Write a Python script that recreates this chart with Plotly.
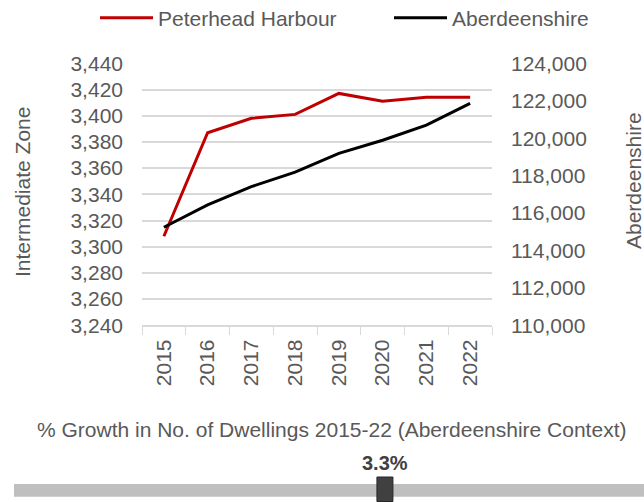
import plotly.graph_objects as go

years = ["2015", "2016", "2017", "2018", "2019", "2020", "2021", "2022"]
peterhead = [3308, 3387, 3398, 3401, 3417, 3411, 3414, 3414]
aberdeenshire = [115240, 116430, 117410, 118180, 119190, 119890, 120700, 121860]
growth_value = 3.3
growth_label = "3.3%"
growth_range = [-3.0, 7.7]

W, H = 644, 502
GRAY = "#595959"
GRID = "#D9D9D9"
FONT = "Liberation Sans, Arial, sans-serif"
FS = 21

def py(px):
    return 1 - px / H

def pxx(px):
    return px / W

fig = go.Figure()
fig.add_trace(go.Scatter(x=years, y=peterhead, name="Peterhead Harbour", mode="lines",
                         line=dict(color="#C00000", width=3), xaxis="x", yaxis="y"))
fig.add_trace(go.Scatter(x=years, y=aberdeenshire, name="Aberdeenshire", mode="lines",
                         line=dict(color="#000000", width=3), xaxis="x", yaxis="y2"))
# slider marker triangle
fig.add_trace(go.Scatter(x=[growth_value], y=[py(481)], mode="markers", showlegend=False,
                         marker=dict(symbol="triangle-down", size=7, color="#8C8C8C"),
                         xaxis="x3", yaxis="y3", hoverinfo="skip"))

fig.update_layout(
    width=W, height=H,
    margin=dict(l=0, r=0, t=0, b=0, autoexpand=False),
    paper_bgcolor="white", plot_bgcolor="white",
    font=dict(family=FONT, size=FS, color=GRAY),
    legend=dict(orientation="h", x=pxx(95), y=py(18), xref="container", yref="container",
                xanchor="left", yanchor="middle",
                font=dict(size=FS, color=GRAY), itemwidth=53, entrywidth=226,
                bgcolor="rgba(0,0,0,0)"),
    xaxis=dict(domain=[pxx(142), pxx(492)], type="category", range=[-0.5, 7.5],
               tickson="boundaries", ticks="outside", ticklen=8, tickcolor=GRID,
               tickangle=-90, ticklabelstandoff=4,
               showline=True, linecolor=GRID, linewidth=1.5, showgrid=False,
               automargin=False, tickfont=dict(size=FS, color=GRAY), fixedrange=True),
    yaxis=dict(domain=[py(325.3), py(63.3)], range=[3240, 3440], dtick=20,
               tickformat=",d", showgrid=True, gridcolor=GRID, gridwidth=1.5,
               zeroline=False, showline=False, ticklabelstandoff=18, automargin=False,
               tickfont=dict(size=FS, color=GRAY)),
    yaxis2=dict(overlaying="y", side="right", range=[110000, 124000], dtick=2000,
                tickformat=",d", showgrid=False, zeroline=False, showline=False,
                ticklabelstandoff=18, automargin=False, tickfont=dict(size=FS, color=GRAY)),
    xaxis3=dict(domain=[pxx(14), 1], range=growth_range, visible=False,
                anchor="y3"),
    yaxis3=dict(domain=[0, 0.06], range=[0, 0.06], visible=False, anchor="x3"),
    shapes=[
        dict(type="rect", xref="paper", yref="paper", x0=pxx(14), x1=1,
             y0=py(496.7), y1=py(484), fillcolor="#BFBFBF", line=dict(width=0), layer="below"),
        dict(type="rect", xref="x3", yref="paper", xsizemode="pixel", xanchor=growth_value,
             x0=-8, x1=8, y0=py(501.5), y1=py(477), fillcolor="#404040",
             line=dict(color="#262626", width=1)),
    ],
    annotations=[
        dict(text="Intermediate Zone", textangle=-90, x=pxx(22), y=py(192), xref="paper",
             yref="paper", xanchor="center", yanchor="middle", showarrow=False,
             font=dict(size=FS, color=GRAY)),
        dict(text="Aberdeenshire", textangle=-90, x=pxx(633), y=py(181), xref="paper",
             yref="paper", xanchor="center", yanchor="middle", showarrow=False,
             font=dict(size=FS, color=GRAY)),
        dict(text="% Growth in No. of Dwellings 2015-22 (Aberdeenshire Context)",
             x=pxx(331), y=py(429), xref="paper", yref="paper", xanchor="center",
             yanchor="middle", showarrow=False, font=dict(size=FS, color=GRAY)),
        dict(text="<b>" + growth_label + "</b>", x=growth_value, xref="x3", y=py(462.5),
             yref="paper", xanchor="center", yanchor="middle", showarrow=False,
             font=dict(size=20, color="#404040")),
    ],
)

fig.write_html("out.html", config={"displayModeBar": False},
               post_script="document.body.style.margin='0';")
